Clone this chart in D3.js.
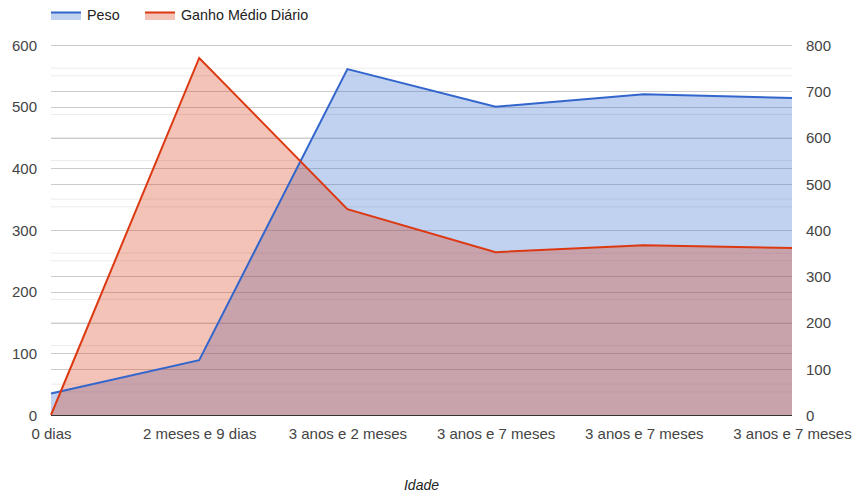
<!DOCTYPE html>
<html><head><meta charset="utf-8">
<script src="https://cdn.jsdelivr.net/npm/d3@7"></script>
<style>body{margin:0;background:#fff}svg{display:block;font-family:Arial,"Liberation Sans",sans-serif}</style>
</head><body><svg id="c" width="864" height="498"></svg>
<script>
const categories = ["0 dias","2 meses e 9 dias","3 anos e 2 meses","3 anos e 7 meses","3 anos e 7 meses","3 anos e 7 meses"];
const peso = [35, 89, 561, 500, 520, 514];
const ganho = [0, 772, 445, 352, 367, 361];
const leftTicks = [0,100,200,300,400,500,600];
const rightTicks = [0,100,200,300,400,500,600,700,800];
const seriesNames = ["Peso","Ganho Médio Diário"];
const colors = ["#3366cc","#dc3912"];

const svg = d3.select("#c");
const L=51, R=792, T=45, B=415;
const x = d3.scalePoint().domain(d3.range(categories.length)).range([L,R]);
const yL = d3.scaleLinear().domain([0,600]).range([B,T]);
const yR = d3.scaleLinear().domain([0,800]).range([B,T]);

// minor gridlines
const g = svg.append("g");
d3.range(50,600,100).forEach(v=>g.append("line").attr("x1",L).attr("x2",R).attr("y1",yL(v)).attr("y2",yL(v)).attr("stroke","#ebebeb"));
d3.range(50,800,100).forEach(v=>g.append("line").attr("x1",L).attr("x2",R).attr("y1",yR(v)).attr("y2",yR(v)).attr("stroke","#ebebeb"));
// major gridlines
leftTicks.slice(1).forEach(v=>g.append("line").attr("x1",L).attr("x2",R).attr("y1",Math.round(yL(v))+0.5).attr("y2",Math.round(yL(v))+0.5).attr("stroke","#cccccc"));
rightTicks.slice(1).forEach(v=>g.append("line").attr("x1",L).attr("x2",R).attr("y1",Math.round(yR(v))+0.5).attr("y2",Math.round(yR(v))+0.5).attr("stroke","#cccccc"));

const data = [peso, ganho];
const scales = [yL, yR];
data.forEach((d,i)=>{
  const ys = scales[i];
  const area = d3.area().x((v,j)=>x(j)).y0(B).y1(v=>ys(v));
  svg.append("path").attr("d",area(d)).attr("fill",colors[i]).attr("fill-opacity",0.3);
});
data.forEach((d,i)=>{
  const ys = scales[i];
  const line = d3.line().x((v,j)=>x(j)).y(v=>ys(v));
  svg.append("path").attr("d",line(d)).attr("fill","none").attr("stroke",colors[i]).attr("stroke-width",2);
});
// baseline
svg.append("line").attr("x1",L).attr("x2",R).attr("y1",B+0.5).attr("y2",B+0.5).attr("stroke","#333");

// axes labels
const left = svg.append("g").attr("transform",`translate(${L},0)`).call(d3.axisLeft(yL).tickValues(leftTicks).tickSize(0).tickPadding(14));
const right = svg.append("g").attr("transform",`translate(${R},0)`).call(d3.axisRight(yR).tickValues(rightTicks).tickSize(0).tickPadding(14));
const bottom = svg.append("g").attr("transform",`translate(0,${B})`).call(d3.axisBottom(x).tickFormat(i=>categories[i]).tickSize(0).tickPadding(13));
[left,right,bottom].forEach(a=>{a.select(".domain").remove();a.selectAll("text").attr("font-size",15).attr("fill","#444").attr("font-family","Arial,'Liberation Sans',sans-serif");});
left.selectAll("text").attr("dy","0.35em");
right.selectAll("text").attr("dy","0.35em");

svg.append("text").attr("x",(L+R)/2).attr("y",490).attr("text-anchor","middle").attr("font-size",14).attr("font-style","italic").attr("fill","#222").text("Idade");

// legend
const lx = [51,145];
seriesNames.forEach((n,i)=>{
  const lg = svg.append("g").attr("transform",`translate(${lx[i]},0)`);
  lg.append("rect").attr("x",0).attr("y",12).attr("width",30).attr("height",8).attr("fill",colors[i]).attr("fill-opacity",0.3);
  lg.append("rect").attr("x",0).attr("y",11.5).attr("width",30).attr("height",2).attr("fill",colors[i]);
  lg.append("text").attr("x",36).attr("y",20).attr("font-size",14.3).attr("fill","#222").text(n);
});
</script></body></html>
